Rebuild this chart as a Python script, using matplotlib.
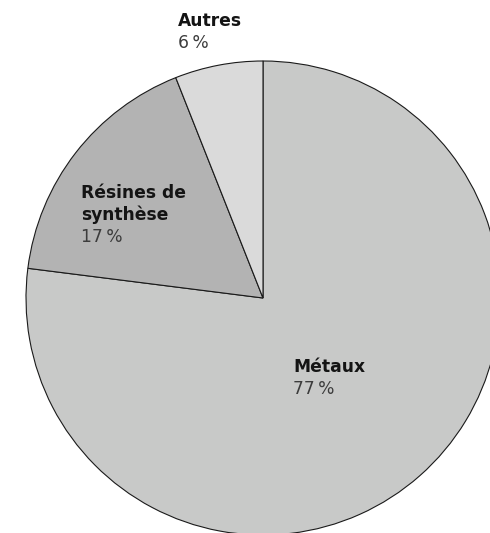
import matplotlib
matplotlib.use("Agg")
import matplotlib.pyplot as plt

plt.rcParams['font.family'] = ['DejaVu Sans']

# Répartition par matériau (%)
categories = ["Métaux", "Résines de\nsynthèse", "Autres"]
values = [77, 17, 6]
colors = ["#c8c9c8", "#b3b3b3", "#dadada"]

# Position du texte de chaque part (coordonnées du camembert, rayon = 1)
label_pos = [(0.127, -0.312), (-0.768, 0.422), (-0.359, 1.147)]

W, H, DPI = 490, 533, 100
cx, cy, r = 263, 298, 237

fig = plt.figure(figsize=(W / DPI, H / DPI), dpi=DPI)
ax = fig.add_axes([(cx - r) / W, (H - cy - r) / H, 2 * r / W, 2 * r / H])
ax.pie(values, colors=colors, startangle=90, counterclock=False, radius=1,
       wedgeprops=dict(edgecolor="#1a1a1a", linewidth=0.8))
ax.set_xlim(-1, 1)
ax.set_ylim(-1, 1)
ax.set_aspect("equal")
ax.axis("off")

line_h = 22 / r
for name, val, (x, y) in zip(categories, values, label_pos):
    lines = name.split("\n")
    for i, ln in enumerate(lines):
        ax.text(x, y - i * line_h, ln, fontsize=12.3, fontweight="bold",
                color="#141414", va="baseline", ha="left", clip_on=False)
    ax.text(x, y - len(lines) * line_h, f"{val}\u2009%", fontsize=12.3,
            color="#3c3c3c", va="baseline", ha="left", clip_on=False)

fig.savefig("out.png", dpi=DPI)
